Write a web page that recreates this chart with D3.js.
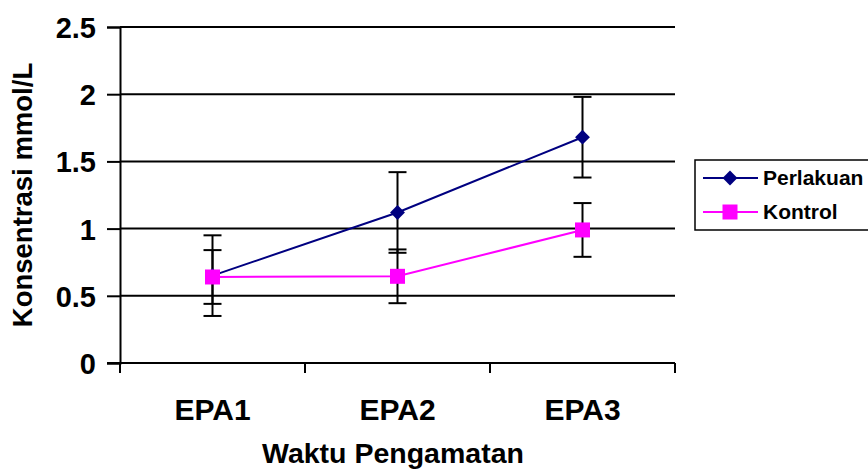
<!DOCTYPE html>
<html>
<head>
<meta charset="utf-8">
<script src="https://cdn.jsdelivr.net/npm/d3@7"></script>
<style>
  html, body { margin: 0; padding: 0; background: #fff; }
  svg { display: block; }
  text { font-family: "Liberation Sans", Arial, sans-serif; font-weight: bold; fill: #000; }
</style>
</head>
<body>
<svg id="chart" width="868" height="474"></svg>
<script>
const categories = ["EPA1", "EPA2", "EPA3"];
const perlakuan = [0.65, 1.12, 1.68];
const perlakuanErr = [0.30, 0.30, 0.30];
const kontrol = [0.64, 0.645, 0.99];
const kontrolErr = [0.20, 0.20, 0.20];
const yTicks = [0, 0.5, 1, 1.5, 2, 2.5];
const yTickLabels = ["0", "0.5", "1", "1.5", "2", "2.5"];
const seriesNames = ["Perlakuan", "Kontrol"];
const xTitle = "Waktu Pengamatan";
const yTitle = "Konsentrasi mmol/L";

const svg = d3.select("#chart");
const pLeft = 120, pRight = 675, pTop = 27, pBottom = 363;

const xBand = d3.scaleBand().domain(categories).range([pLeft, pRight]);
const xPt = d3.scalePoint().domain(categories).range([pLeft, pRight]).padding(0.5);
const y = d3.scaleLinear().domain([0, 2.5]).range([pBottom, pTop]);

// gridlines
svg.append("g").selectAll("line").data(yTicks.filter(d => d > 0)).join("line")
  .attr("x1", pLeft).attr("x2", pRight)
  .attr("y1", d => y(d)).attr("y2", d => y(d))
  .attr("stroke", "#000").attr("stroke-width", 2);

// y axis
const yAxis = svg.append("g").attr("transform", `translate(${pLeft},0)`)
  .call(d3.axisLeft(y).tickValues(yTicks).tickSize(13).tickPadding(11)
    .tickFormat((d, i) => yTickLabels[i]));
yAxis.select(".domain").attr("stroke", "#000").attr("stroke-width", 2);
yAxis.selectAll(".tick line").attr("stroke", "#000").attr("stroke-width", 2);
yAxis.selectAll(".tick text").attr("font-size", 29).attr("font-family", null)
  .attr("dy", "0.36em");

// x axis line
svg.append("line").attr("x1", pLeft - 13).attr("x2", pRight)
  .attr("y1", pBottom).attr("y2", pBottom)
  .attr("stroke", "#000").attr("stroke-width", 2);
const edges = categories.map(c => xBand(c)).concat([xBand(categories[categories.length - 1]) + xBand.bandwidth()]);
svg.append("g").selectAll("line").data(edges).join("line")
  .attr("x1", d => d).attr("x2", d => d)
  .attr("y1", pBottom).attr("y2", pBottom + 10)
  .attr("stroke", "#000").attr("stroke-width", 2);
svg.append("g").selectAll("text").data(categories).join("text")
  .attr("x", d => xPt(d)).attr("y", 420)
  .attr("text-anchor", "middle").attr("font-size", 30)
  .text(d => d);

// titles
svg.append("text").attr("x", 393).attr("y", 463).attr("text-anchor", "middle")
  .attr("font-size", 28.5).text(xTitle);
svg.append("text").attr("transform", `translate(32,195) rotate(-90)`)
  .attr("text-anchor", "middle").attr("font-size", 27.5).text(yTitle);

// error bars
function errBars(vals, errs) {
  const g = svg.append("g").attr("stroke", "#000").attr("stroke-width", 2);
  categories.forEach((c, i) => {
    const cx = xPt(c), hi = y(vals[i] + errs[i]), lo = y(vals[i] - errs[i]);
    g.append("line").attr("x1", cx).attr("x2", cx).attr("y1", hi).attr("y2", lo);
    g.append("line").attr("x1", cx - 9).attr("x2", cx + 9).attr("y1", hi).attr("y2", hi);
    g.append("line").attr("x1", cx - 9).attr("x2", cx + 9).attr("y1", lo).attr("y2", lo);
  });
}
errBars(perlakuan, perlakuanErr);
errBars(kontrol, kontrolErr);

const line = d3.line().x((d, i) => xPt(categories[i])).y(d => y(d));
svg.append("path").datum(perlakuan).attr("d", line)
  .attr("fill", "none").attr("stroke", "#000080").attr("stroke-width", 2);
svg.append("path").datum(kontrol).attr("d", line)
  .attr("fill", "none").attr("stroke", "#FF00FF").attr("stroke-width", 2);

const diamond = d3.symbol().type(d3.symbolDiamond2).size(140);
const square = d3.symbol().type(d3.symbolSquare).size(225);
svg.append("g").selectAll("path").data(perlakuan).join("path")
  .attr("d", diamond)
  .attr("transform", (d, i) => `translate(${xPt(categories[i])},${y(d)})`)
  .attr("fill", "#000080");
svg.append("g").selectAll("path").data(kontrol).join("path")
  .attr("d", square)
  .attr("transform", (d, i) => `translate(${xPt(categories[i])},${y(d)})`)
  .attr("fill", "#FF00FF");

// legend
const lg = svg.append("g");
lg.append("rect").attr("x", 695).attr("y", 160).attr("width", 200).attr("height", 70)
  .attr("fill", "#fff").attr("stroke", "#000").attr("stroke-width", 1.5);
const legendColors = ["#000080", "#FF00FF"];
const legendSyms = [diamond, square];
seriesNames.forEach((n, i) => {
  const cy = 178 + i * 34;
  lg.append("line").attr("x1", 703).attr("x2", 758).attr("y1", cy).attr("y2", cy)
    .attr("stroke", legendColors[i]).attr("stroke-width", 2);
  lg.append("path").attr("d", legendSyms[i])
    .attr("transform", `translate(730,${cy})`).attr("fill", legendColors[i]);
  lg.append("text").attr("x", 763).attr("y", cy + 7).attr("font-size", 21).text(n);
});
</script>
</body>
</html>
